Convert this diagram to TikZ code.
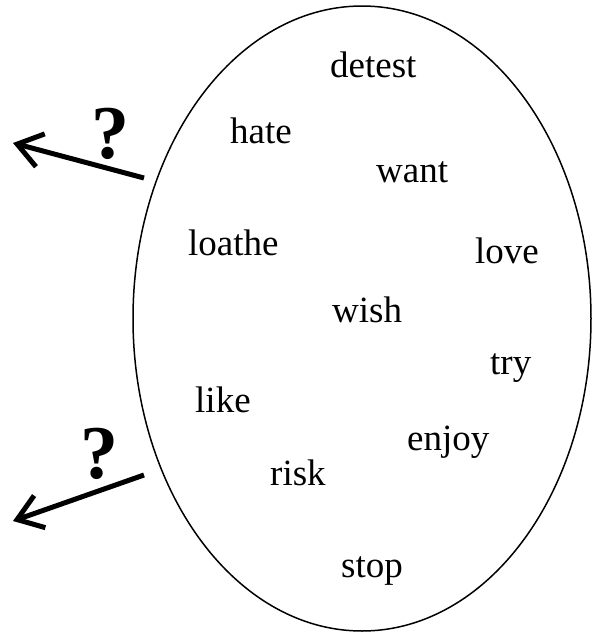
\documentclass[tikz,border=0pt]{standalone}
\usepackage{fontspec}
\setmainfont{Liberation Serif}
\usetikzlibrary{arrows.meta,shapes.geometric}
\begin{document}
\begin{tikzpicture}[x=1pt,y=-1pt,
  word/.style={anchor=base west,inner sep=0pt,font=\fontsize{37}{40}\selectfont},
  qmark/.style={inner sep=0pt,font=\fontsize{76}{80}\selectfont\bfseries},
  query/.style={line width=5pt,-{Straight Barb[length=24pt,width=34pt]}}]
\useasboundingbox (0,0) rectangle (597,633);
\node[draw,ellipse,line width=1.5pt,minimum width=458pt,minimum height=625pt,inner sep=0pt] (set) at (362,318.5) {};
\node[word] (detest) at (330,77) {detest};
\node[word] (hate) at (230,143) {hate};
\node[word] (want) at (376,182) {want};
\node[word] (loathe) at (188,255) {loathe};
\node[word] (love) at (475,263) {love};
\node[word] (wish) at (332,322) {wish};
\node[word] (try) at (490,374) {try};
\node[word] (like) at (195,412) {like};
\node[word] (enjoy) at (407,450) {enjoy};
\node[word] (risk) at (270,485) {risk};
\node[word] (stop) at (341,577) {stop};
\node[qmark] (q1) at (110,134) {?};
\node[qmark] (q2) at (100,454) {?};
\coordinate (a1s) at (144,178);
\coordinate (a1e) at (13,143);
\coordinate (a2s) at (144,475);
\coordinate (a2e) at (13,521);
\draw[query] (a1s) -- (a1e);
\draw[query] (a2s) -- (a2e);
\end{tikzpicture}
\end{document}
